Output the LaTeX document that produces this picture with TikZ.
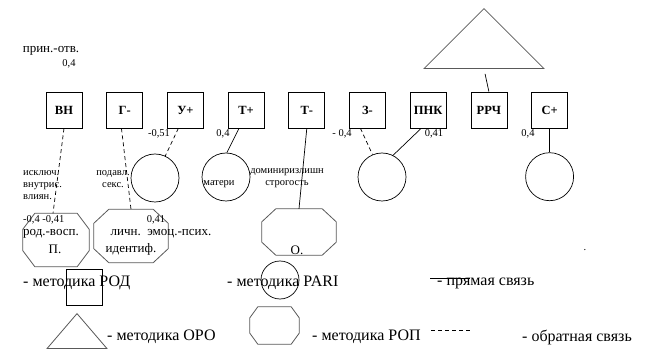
\documentclass[tikz,border=0pt]{standalone}
\usepackage{fontspec}
\setmainfont{Liberation Serif}
\usetikzlibrary{positioning, shapes.geometric, calc}

% octagon outline round a named node: node, x cut, y cut
\newcommand{\drawoct}[3]{%
  \draw[octline] ($(#1.north west)+(#2,0)$) -- ($(#1.north east)+(-#2,0)$)
    -- ($(#1.north east)+(0,#3)$) -- ($(#1.south east)+(0,-#3)$)
    -- ($(#1.south east)+(-#2,0)$) -- ($(#1.south west)+(#2,0)$)
    -- ($(#1.south west)+(0,-#3)$) -- ($(#1.north west)+(0,#3)$) -- cycle;}

\begin{document}
\begin{tikzpicture}[x=1pt, y=-1pt,
    node distance=24pt,
    every node/.append style={font=\rmfamily},
    box/.style={rectangle, draw, line width=0.7pt, minimum size=36pt, inner sep=0pt,
                font=\rmfamily\bfseries\fontsize{12.5}{14}\selectfont},
    circ/.style={circle, draw, line width=0.7pt, minimum size=48pt, inner sep=0pt},
    octa/.style={rectangle, inner sep=0pt},
    octline/.style={draw=black!65, line width=0.8pt},
    tri/.style={isosceles triangle, isosceles triangle stretches, shape border rotate=90,
                draw=black!65, line width=0.8pt, inner sep=0pt},
    num/.style={font=\rmfamily\fontsize{10.5}{12}\selectfont, inner sep=0pt},
    note/.style={font=\rmfamily\fontsize{10.5}{12}\selectfont, inner sep=0pt},
    lbl/.style={font=\rmfamily\fontsize{13}{15}\selectfont, inner sep=0pt},
    leg/.style={font=\rmfamily\fontsize{16}{18}\selectfont, inner sep=0pt, anchor=west},
    fb/.style={line width=0.7pt, dash pattern=on 4pt off 3pt},
    pr/.style={line width=0.7pt}
  ]
  \useasboundingbox (0,0) rectangle (658,363);

  % scales
  \node[box] (vn) at (64,110) {ВН};
  \node[box, right=of vn] (gm) {Г-};
  \node[box, right=of gm] (up) {У+};
  \node[box, right=of up] (tp) {Т+};
  \node[box, right=of tp] (tm) {Т-};
  \node[box, right=of tm] (zm) {З-};
  \node[box, right=of zm] (pnk) {ПНК};
  \node[box, right=of pnk] (rrch) {РРЧ};
  \node[box, right=of rrch] (sp) {С+};

  \node[tri, minimum width=120pt, minimum height=60pt, anchor=south] (oro) at (484,69) {};

  % PARI and ROP
  \node[circ] (c1) at (155,178) {};
  \node[circ] (c2) at (226,177) {};
  \node[circ] (c3) at (382,177) {};
  \node[circ, below=of sp] (c4) {};
  \node[octa, minimum width=66pt, minimum height=53pt] (op1) at (56,240) {};
  \node[octa, minimum width=74pt, minimum height=53pt] (op2) at (131,236) {};
  \node[octa, minimum width=74pt, minimum height=46pt] (op3) at (299,232) {};
  \drawoct{op1}{12}{16}
  \drawoct{op2}{15}{14}
  \drawoct{op3}{14}{13}

  % links
  \draw[fb] (vn.south) -- ($(op1.north)+(-3,0)$);
  \draw[fb] (gm.-100) -- (op2.north);
  \draw[fb] (up.-111) -- (c1.65);
  \draw[pr] (tp.-111) -- (c2.88);
  \draw[pr] (tm.south) -- (op3.north);
  \draw[fb] (zm.-111) -- (c3.113);
  \draw[pr] (pnk.-111) -- (c3.63);
  \draw[pr] (sp.south) -- (c4.north);
  \draw[pr, shorten >=5pt] (rrch.north) -- (oro.south);

  % labels
  \node[lbl] (t1) at (51,51) {прин.-отв.};
  \node[num] (n1) at (69,64) {0,4};
  \node[num] (n2) at (159,134) {-0,51};
  \node[num] (n3) at (223,134) {0,4};
  \node[num] (n4) at (342,134) {-~0,4};
  \node[num] (n5) at (434,134) {0,41};
  \node[num] (n6) at (528,134) {0,4};
  \node[note, align=left, anchor=west] (t2) at (23,185) {исключ.\\внутрис.\\влиян.};
  \node[note, align=center] (t3) at (113,179) {подавл.\\секс.};
  \node[note] (t4) at (219,184) {матери};
  \node[note, align=center] (t5) at (287,178) {доминиризлишн\\строгость};
  \node[num, anchor=west] (n7) at (23,220) {-0,4 -0,41};
  \node[num] (n8) at (156,220) {0,41};
  \node[lbl] (t6) at (51,234) {род.-восп.};
  \node[lbl] (t7) at (55,249) {П.};
  \node[lbl] (t8) at (161,234) {личн.~~эмоц.-псих.};
  \node[lbl] (t9) at (131,249) {идентиф.};
  \node[lbl] (t10) at (297,250) {О.};
  \node[num] (t11) at (585,250) {.};

  % legend
  \node[leg] (l1) at (23,283) {- методика РОД};
  \node[box] (lsq) at (84,287) {};
  \node[circ, minimum size=38pt] (lci) at (280,280) {};
  \node[leg] (l2) at (227,283) {- методика PARI};
  \coordinate (s1) at (430,278);
  \coordinate (s2) at (470,278);
  \draw[pr] (s1) -- (s2);
  \node[leg] (l3) at (437,283) {- прямая связь};
  \node[tri, minimum width=60pt, minimum height=35pt, anchor=south] (ltr) at (77,349) {};
  \node[leg] (l4) at (107,337) {- методика ОРО};
  \node[octa, minimum width=49pt, minimum height=37pt] (lop) at (274.5,325.5) {};
  \drawoct{lop}{8}{11}
  \node[leg] (l5) at (312,337) {- методика РОП};
  \coordinate (d1) at (431,330);
  \coordinate (d2) at (472,330);
  \draw[fb] (d1) -- (d2);
  \node[leg] (l6) at (522,337) {- обратная связь};
\end{tikzpicture}
\end{document}
